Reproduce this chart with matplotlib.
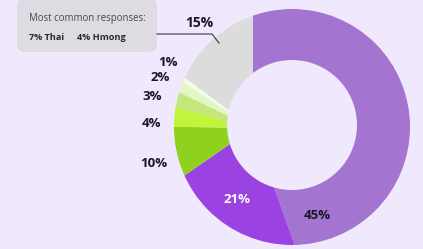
import matplotlib
matplotlib.use("Agg")
import matplotlib.pyplot as plt
from matplotlib.path import Path
from matplotlib.patches import PathPatch, FancyBboxPatch, Circle

# ---- data ----
categories = ["Other A", "Other B", "Other C", "Other D", "Other E", "Other F", "Other G", "Other H"]
values = [45, 21, 10, 4, 3, 2, 1, 15]
labels = ["45%", "21%", "10%", "4%", "3%", "2%", "1%", "15%"]
colors = ["#a374d0", "#9a42e2", "#8fd11f", "#c0f53c", "#c5e67c", "#e2f6c6", "#f2fde2", "#dcdcdc"]
note_title = "Most common responses:"
note_items = ["7% Thai", "4% Hmong"]

BG = "#f0e8fc"
W, H = 423, 249
fig = plt.figure(figsize=(W / 100, H / 100), dpi=100, facecolor=BG)
ax = fig.add_axes([0, 0, 1, 1])
ax.set_facecolor(BG)

# geometry (pixel-like data coords, y up)
ring_c = (292, 122)
r_out, r_in = 118, 65
hole_c = (292, 124)
wedge_c = (253, 121)

wedges, _ = ax.pie(values, colors=colors, startangle=90, counterclock=False,
                   center=wedge_c, radius=175, frame=True,
                   wedgeprops=dict(linewidth=0, zorder=1))

# mask outside the ring and the hole with background colour
m = 20
rect = Path([(-m, -m), (-m, H + m), (W + m, H + m), (W + m, -m), (-m, -m)],
            [Path.MOVETO, Path.LINETO, Path.LINETO, Path.LINETO, Path.CLOSEPOLY])
outer = Path.circle(ring_c, r_out)
mask = Path.make_compound_path(rect, outer)
ax.add_patch(PathPatch(mask, facecolor=BG, edgecolor="none", zorder=2))
ax.add_patch(Circle(hole_c, r_in, facecolor=BG, edgecolor="none", zorder=2))

ax.set_xlim(0, W)
ax.set_ylim(0, H)
ax.set_aspect("auto")
ax.axis("off")

# slice labels
font = "Open Sans"
lab_pos = {"45%": (317, 34), "21%": (237, 50), "10%": (154, 86), "4%": (151, 126),
           "3%": (152, 153), "2%": (160, 172), "1%": (168, 187), "15%": (199, 226)}
for lab in labels:
    x, y = lab_pos[lab]
    ax.text(x, y, lab, ha="center", va="center", fontsize=9.5 if lab != "15%" else 10,
            fontweight="bold", family=font, zorder=5,
            color="white" if lab == "21%" else "#1b1626")

# note box
box = FancyBboxPatch((17, 197), 140, 54, boxstyle="round,pad=0,rounding_size=8",
                     facecolor="#dedbe2", edgecolor="none", zorder=4)
ax.add_patch(box)
ax.text(29, 231, note_title, ha="left", va="center", fontsize=6.9, family=font,
        color="#4a4a4a", zorder=5)
ax.text(29, 212, note_items[0], ha="left", va="center", fontsize=6.6, family=font,
        fontweight="bold", color="#2a2a2a", zorder=5)
ax.text(77, 212, note_items[1], ha="left", va="center", fontsize=6.6, family=font,
        fontweight="bold", color="#2a2a2a", zorder=5)
ax.plot([157, 212, 219], [215, 215, 206], color="#3a3a3a", lw=0.8, zorder=5)

fig.savefig("out.png", dpi=100, facecolor=BG)
